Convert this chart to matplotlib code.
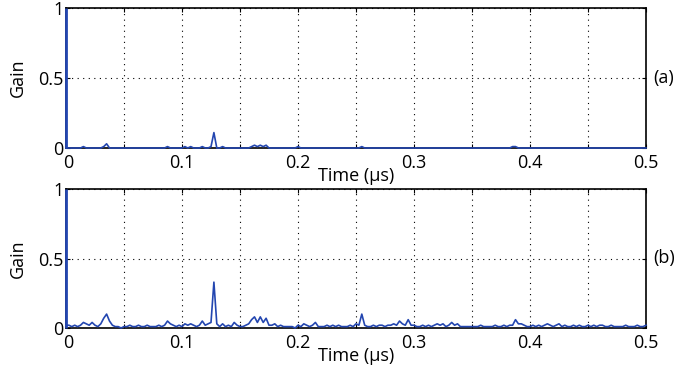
import numpy as np
import matplotlib.pyplot as plt
from matplotlib.transforms import ScaledTranslation

plt.rcParams['font.family'] = ['Open Sans', 'DejaVu Sans']

# tiempo en microsegundos, paso de 0.0025
t_step = 0.0025

# impulso directo en t = 0
impulse_time = 0.0
impulse_gain = 1.0

# (b) ganancia, 201 muestras
gain_b = [
    0.02, 0.02, 0.01, 0.02, 0.01, 0.02, 0.04, 0.03, 0.02, 0.04,
    0.02, 0.01, 0.03, 0.07, 0.10, 0.05, 0.02, 0.01, 0.01, 0.00,
    0.01, 0.01, 0.02, 0.01, 0.01, 0.02, 0.01, 0.01, 0.02, 0.01,
    0.01, 0.01, 0.02, 0.01, 0.02, 0.05, 0.03, 0.02, 0.01, 0.02,
    0.01, 0.03, 0.02, 0.03, 0.02, 0.01, 0.02, 0.05, 0.02, 0.03,
    0.04, 0.33, 0.03, 0.01, 0.03, 0.01, 0.02, 0.01, 0.04, 0.02,
    0.01, 0.01, 0.02, 0.03, 0.06, 0.08, 0.04, 0.08, 0.04, 0.07,
    0.02, 0.02, 0.03, 0.01, 0.02, 0.01, 0.01, 0.01, 0.01, 0.00,
    0.02, 0.01, 0.03, 0.02, 0.01, 0.02, 0.04, 0.01, 0.01, 0.01,
    0.02, 0.01, 0.02, 0.01, 0.02, 0.01, 0.01, 0.01, 0.02, 0.01,
    0.03, 0.02, 0.10, 0.02, 0.01, 0.01, 0.02, 0.01, 0.02, 0.02,
    0.01, 0.02, 0.02, 0.03, 0.02, 0.05, 0.03, 0.02, 0.06, 0.02,
    0.02, 0.01, 0.01, 0.02, 0.01, 0.02, 0.01, 0.02, 0.03, 0.02,
    0.03, 0.01, 0.02, 0.04, 0.02, 0.03, 0.01, 0.01, 0.01, 0.01,
    0.01, 0.01, 0.01, 0.02, 0.01, 0.01, 0.01, 0.01, 0.02, 0.01,
    0.01, 0.02, 0.01, 0.02, 0.02, 0.06, 0.03, 0.03, 0.02, 0.01,
    0.01, 0.02, 0.01, 0.02, 0.01, 0.02, 0.03, 0.02, 0.01, 0.02,
    0.03, 0.01, 0.02, 0.01, 0.01, 0.02, 0.01, 0.02, 0.01, 0.01,
    0.02, 0.01, 0.02, 0.01, 0.02, 0.02, 0.01, 0.01, 0.02, 0.01,
    0.01, 0.01, 0.01, 0.02, 0.01, 0.01, 0.01, 0.02, 0.01, 0.01,
    0.02,
]

# (a) casi todo cero, solo unos picos pequenos
gain_a = [
    0.00, 0.00, 0.00, 0.00, 0.00, 0.00, 0.01, 0.00, 0.00, 0.00,
    0.00, 0.00, 0.00, 0.01, 0.03, 0.00, 0.00, 0.00, 0.00, 0.00,
    0.00, 0.00, 0.00, 0.00, 0.00, 0.00, 0.00, 0.00, 0.00, 0.00,
    0.00, 0.00, 0.00, 0.00, 0.00, 0.01, 0.00, 0.00, 0.00, 0.00,
    0.00, 0.01, 0.00, 0.01, 0.00, 0.00, 0.00, 0.01, 0.00, 0.00,
    0.01, 0.11, 0.00, 0.00, 0.01, 0.00, 0.00, 0.00, 0.00, 0.00,
    0.00, 0.00, 0.00, 0.00, 0.01, 0.02, 0.01, 0.02, 0.01, 0.02,
    0.00, 0.00, 0.00, 0.00, 0.00, 0.00, 0.00, 0.00, 0.00, 0.00,
    0.01, 0.00, 0.00, 0.00, 0.00, 0.00, 0.00, 0.00, 0.00, 0.00,
    0.00, 0.00, 0.00, 0.00, 0.00, 0.00, 0.00, 0.00, 0.00, 0.00,
    0.00, 0.00, 0.01, 0.00, 0.00, 0.00, 0.00, 0.00, 0.00, 0.00,
    0.00, 0.00, 0.00, 0.00, 0.00, 0.00, 0.00, 0.00, 0.00, 0.00,
    0.00, 0.00, 0.00, 0.00, 0.00, 0.00, 0.00, 0.00, 0.00, 0.00,
    0.00, 0.00, 0.00, 0.00, 0.00, 0.00, 0.00, 0.00, 0.00, 0.00,
    0.00, 0.00, 0.00, 0.00, 0.00, 0.00, 0.00, 0.00, 0.00, 0.00,
    0.00, 0.00, 0.00, 0.00, 0.01, 0.01, 0.00, 0.00, 0.00, 0.00,
    0.00, 0.00, 0.00, 0.00, 0.00, 0.00, 0.00, 0.00, 0.00, 0.00,
    0.00, 0.00, 0.00, 0.00, 0.00, 0.00, 0.00, 0.00, 0.00, 0.00,
    0.00, 0.00, 0.00, 0.00, 0.00, 0.00, 0.00, 0.00, 0.00, 0.00,
    0.00, 0.00, 0.00, 0.00, 0.00, 0.00, 0.00, 0.00, 0.00, 0.00,
    0.00,
]

time = np.arange(len(gain_b)) * t_step

x_ticks = [0, 0.05, 0.1, 0.15, 0.2, 0.25, 0.3, 0.35, 0.4, 0.45, 0.5]
x_labels = ['0', '', '0.1', '', '0.2', '', '0.3', '', '0.4', '', '0.5']
y_ticks = [0, 0.5, 1]
y_labels = ['0', '0.5', '1']
panel_tags = ['(a)', '(b)']

blue = '#2346b0'

fig = plt.figure(figsize=(6.76, 3.70), dpi=100)
ax_a = fig.add_axes([66/676, 1 - 148/370, 580/676, 140/370])
ax_b = fig.add_axes([66/676, 1 - 328/370, 580/676, 139/370])

for ax, g, tag in zip([ax_a, ax_b], [gain_a, gain_b], panel_tags):
    ax.plot(time, g, color=blue, lw=1.2, zorder=3, clip_on=False)
    ax.vlines(impulse_time, 0, impulse_gain, color=blue, lw=2, zorder=4,
              clip_on=False)
    ax.set_xlim(0, 0.5)
    ax.set_ylim(0, 1)
    ax.set_xticks(x_ticks)
    ax.set_xticklabels(x_labels)
    ax.set_yticks(y_ticks)
    ax.set_yticklabels(y_labels)
    ax.tick_params(direction='in', length=3, width=0.8, labelsize=13,
                   top=True, right=True)
    ax.tick_params(axis='x', pad=4)
    ax.tick_params(axis='y', pad=2)
    # el "0" del eje x un poco a la derecha, como en el original
    lbl0 = ax.get_xticklabels()[0]
    lbl0.set_transform(lbl0.get_transform() +
                       ScaledTranslation(2.5/100, 0, fig.dpi_scale_trans))
    ax.grid(True, linestyle=(0, (1, 4)), color='black', lw=0.8)
    for s in ax.spines.values():
        s.set_linewidth(1.2)
    ax.set_ylabel('Gain', fontsize=13, labelpad=8)
    ax.set_xlabel('Time (µs)', fontsize=13, labelpad=-3)
    ax.text(1.013, 0.5, tag, transform=ax.transAxes, fontsize=13,
            va='center', ha='left')

fig.savefig('out.png', dpi=100)
